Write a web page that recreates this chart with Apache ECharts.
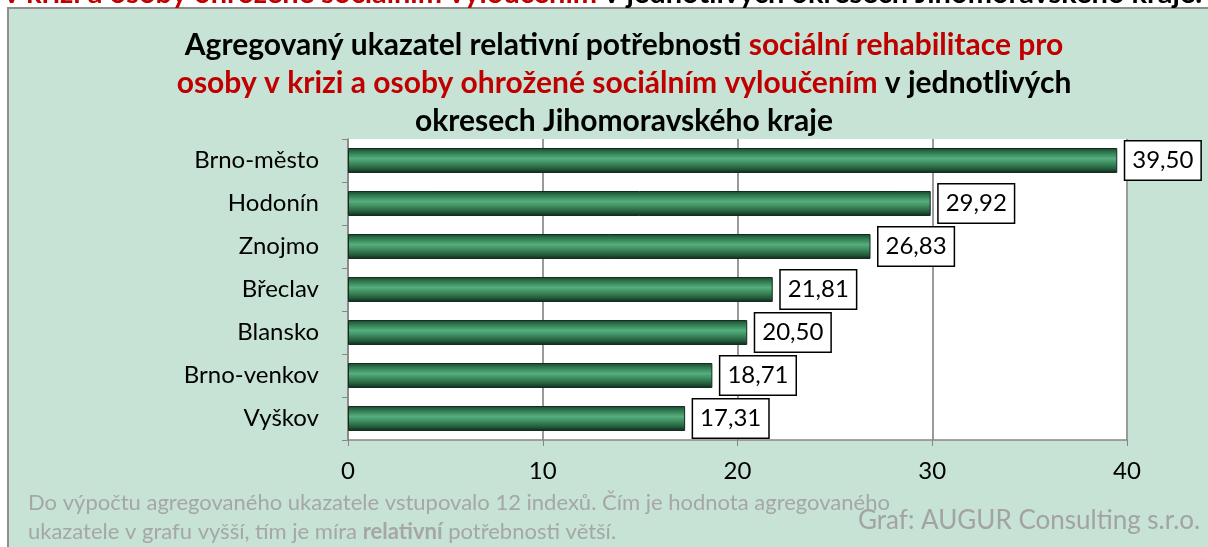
<!DOCTYPE html>
<html>
<head>
<meta charset="utf-8">
<script src="https://cdn.jsdelivr.net/npm/echarts@6/dist/echarts.min.js"></script>
<style>
  html, body { margin: 0; padding: 0; background: #fff; }
  #chart { width: 1208px; height: 547px; }
</style>
</head>
<body>
<div id="chart"></div>
<script>
// data
const districts = ["Brno-město", "Hodonín", "Znojmo", "Břeclav", "Blansko", "Brno-venkov", "Vyškov"];
const values = [39.50, 29.92, 26.83, 21.81, 20.50, 18.71, 17.31];
const xTicks = [0, 10, 20, 30, 40];

const FONT = "Lato, 'Open Sans', sans-serif";
const RED = "#c00000";

const chart = echarts.init(document.getElementById("chart"));

const barColor = new echarts.graphic.LinearGradient(0, 0, 0, 1, [
  { offset: 0, color: "#1c4530" },
  { offset: 0.18, color: "#2f7a50" },
  { offset: 0.42, color: "#56ad7d" },
  { offset: 0.6, color: "#3f8e60" },
  { offset: 0.85, color: "#22583a" },
  { offset: 1, color: "#0f2618" }
]);

const option = {
  backgroundColor: "#fff",
  animation: false,
  textStyle: { fontFamily: FONT },
  graphic: [
    {
      type: "rect", z: -10, silent: true,
      shape: { x: 8, y: 8, width: 1220, height: 560 },
      style: { fill: "#c6e3d5", stroke: "#8f8f8f", lineWidth: 2 }
    },
    {
      // cut-off heading above the chart frame
      type: "text", x: 4, y: 8, z: -5,
      style: {
        text: "{r|v krizi a osoby ohrožené sociálním vyloučením}{k| v jednotlivých okresech Jihomoravského kraje.}",
        textVerticalAlign: "bottom",
        rich: {
          r: { fill: RED, font: "bold 29px " + FONT },
          k: { fill: "#000", font: "bold 29px " + FONT }
        }
      }
    },
    {
      type: "text", x: 624, y: 26, z: 5,
      style: {
        text: "{k|Agregovaný ukazatel relativní potřebnosti }{r|sociální rehabilitace pro}\n" +
              "{r|osoby v krizi a osoby ohrožené sociálním vyloučením}{k| v jednotlivých}\n" +
              "{k|okresech Jihomoravského kraje}",
        textAlign: "center",
        textVerticalAlign: "top",
        rich: {
          k: { fill: "#000", font: "bold 30px " + FONT, lineHeight: 38 },
          r: { fill: RED, font: "bold 30px " + FONT, lineHeight: 38 }
        }
      }
    },
    {
      type: "text", left: 28, top: 492, z: 5,
      style: {
        text: "{n|Do výpočtu agregovaného ukazatele vstupovalo 12 indexů. Čím je hodnota agregovaného}\n" +
              "{n|ukazatele v grafu vyšší, tím je míra }{b|relativní}{n| potřebnosti větší.}",
        rich: {
          n: { fill: "#a6a6a6", font: "22px " + FONT, lineHeight: 29 },
          b: { fill: "#a6a6a6", font: "bold 22px " + FONT, lineHeight: 29 }
        }
      }
    },
    {
      type: "text", left: 858, top: 508, z: 4,
      style: { text: "Graf: AUGUR Consulting s.r.o.", fill: "#a3a3a3", font: "26px " + FONT }
    }
  ],
  grid: {
    left: 348, right: 81, top: 139, bottom: 107,
    show: true, backgroundColor: "#fff", borderWidth: 0
  },
  xAxis: {
    type: "value",
    min: 0, max: 40, interval: 10,
    axisLine: { show: true, lineStyle: { color: "#868686", width: 1.5 } },
    axisTick: { show: true, length: 6, lineStyle: { color: "#868686" } },
    splitLine: { show: true, lineStyle: { color: "#9a9a9a", width: 2 } },
    axisLabel: {
      color: "#000", fontSize: 24, fontFamily: FONT, margin: 19,
      formatter: v => xTicks.includes(v) ? String(v) : ""
    }
  },
  yAxis: {
    type: "category",
    data: districts,
    inverse: true,
    axisLine: { show: true, lineStyle: { color: "#868686", width: 1.5 } },
    axisTick: { show: true, length: 6, lineStyle: { color: "#868686" } },
    axisLabel: { color: "#000", fontSize: 24, fontFamily: FONT, margin: 29 }
  },
  series: [
    {
      type: "bar",
      data: values,
      barCategoryGap: "42%",
      itemStyle: { color: barColor, borderColor: "#132b1d", borderWidth: 1 },
      label: {
        show: true,
        position: "right",
        distance: 8,
        color: "#000",
        fontSize: 24,
        fontFamily: FONT,
        backgroundColor: "#fff",
        borderColor: "#000",
        borderWidth: 1.5,
        padding: [8, 7, 6, 7],
        formatter: p => p.value.toFixed(2).replace(".", ",")
      }
    }
  ]
};

chart.setOption(option);
</script>
</body>
</html>
